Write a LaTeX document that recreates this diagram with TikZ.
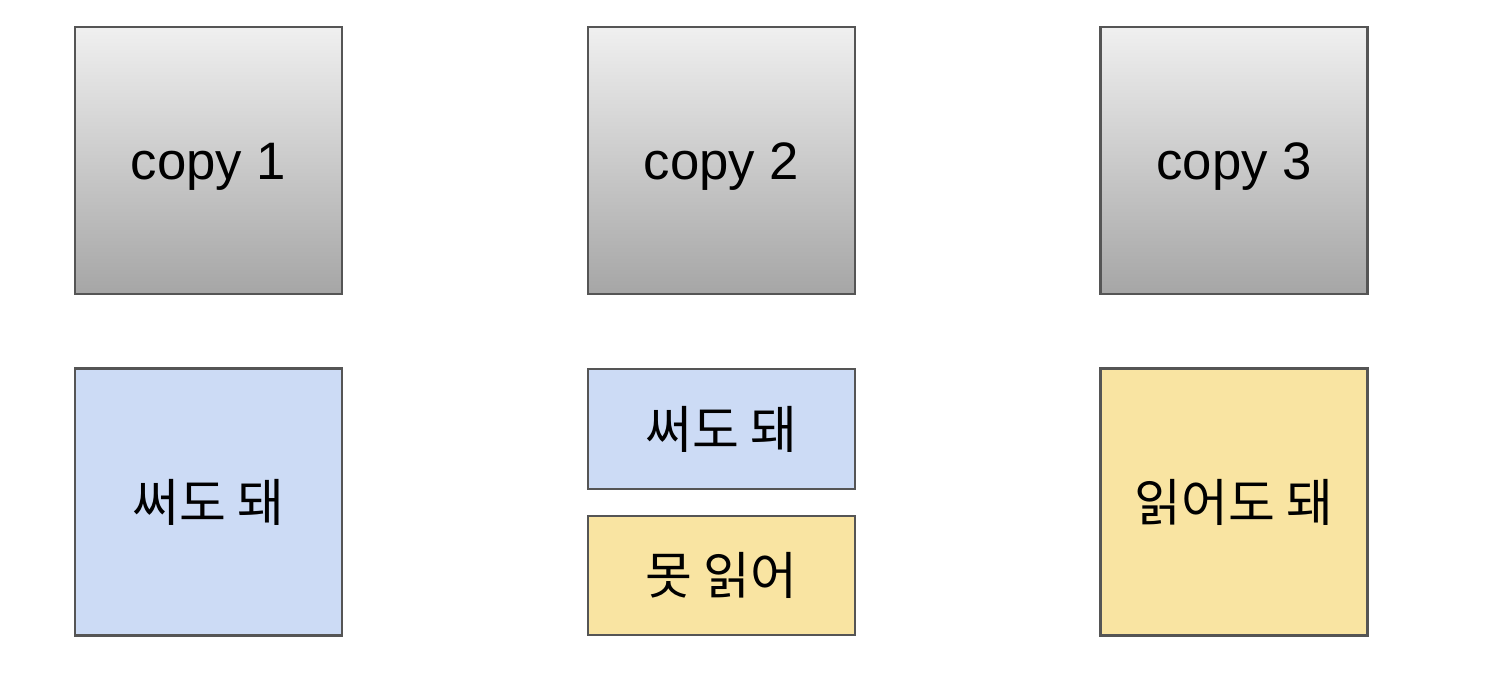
\documentclass[tikz,border=0pt]{standalone}
\usepackage{fontspec}
\setmainfont{Liberation Sans}
\newfontfamily\kor{Noto Sans CJK KR}
\usepackage{tikz}
\usetikzlibrary{calc, positioning}
\definecolor{writeblue}{HTML}{CCDBF5}
\definecolor{readyellow}{HTML}{F9E4A2}
\definecolor{boxline}{HTML}{555555}
\tikzset{
  box/.style={draw=boxline, line width=1.3pt, inner sep=0pt, minimum width=5.34cm,
    font=\fontsize{30}{36}\selectfont},
  copybox/.style={box, minimum height=5.34cm, top color=gray!12, bottom color=gray!70,
    text height=21.5pt, text depth=0pt},
  writebox/.style={box, fill=writeblue, font=\kor\fontsize{29}{36}\selectfont,
    text height=22pt, text depth=0pt},
  readbox/.style={box, fill=readyellow, font=\kor\fontsize{29}{36}\selectfont,
    text height=22pt, text depth=0pt}
}
\begin{document}
\begin{tikzpicture}
          \useasboundingbox (0,0) rectangle (29.88,13.72);
          % Copies
          \node[copybox] (copy1) at (4.17,10.51) {copy 1};
          \node[copybox] (copy2) at (14.43,10.51) {copy 2};
          \node[copybox] (copy3) at (24.68,10.51) {copy 3};
          % Permissions of copy 1
          \node[writebox, minimum height=5.34cm] (write1) at (4.17,3.68) {써도 돼};
          % Permissions of copy 2
          \node[writebox, minimum height=2.4cm] (write2) at (14.43,5.14) {써도 돼};
          \node[readbox, minimum height=2.38cm] (noread2) at (14.43,2.21) {못 읽어};
          % Permissions of copy 3
          \node[readbox, minimum height=5.34cm] (read3) at (24.68,3.68) {읽어도 돼};
        \end{tikzpicture}
\end{document}
